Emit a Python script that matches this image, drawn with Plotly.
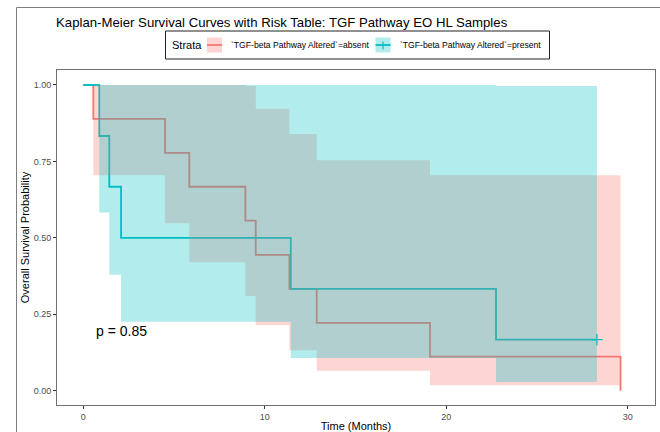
import plotly.graph_objects as go

# ---- data ----
absent_time = [0, 0.55, 4.5, 5.84, 8.93, 9.5, 11.35, 12.86, 19.1, 29.6]
absent_surv = [1.0, 0.889, 0.778, 0.667, 0.556, 0.444, 0.333, 0.222, 0.111, 0.0]
absent_ci_time = [0, 0.55, 4.5, 5.84, 8.93, 9.5, 11.35, 12.86, 19.1, 29.6]
absent_upper = [1.0, 1.0, 1.0, 1.0, 0.997, 0.922, 0.840, 0.754, 0.705, 0.705]
absent_lower = [1.0, 0.705, 0.548, 0.420, 0.310, 0.214, 0.132, 0.065, 0.0175, 0.0175]

present_time = [0, 0.88, 1.43, 2.08, 11.43, 22.74, 28.3]
present_surv = [1.0, 0.833, 0.667, 0.5, 0.333, 0.167, 0.167]
present_ci_time = [0, 0.88, 1.43, 2.08, 11.43, 22.74, 28.3]
present_upper = [1.0, 1.0, 1.0, 1.0, 1.0, 0.997, 0.997]
present_lower = [1.0, 0.583, 0.379, 0.225, 0.107, 0.028, 0.028]

censor_time = [28.3]
censor_surv = [0.167]

strata = ["`TGF-beta Pathway Altered`=absent", "`TGF-beta Pathway Altered`=present"]
colors = ["#F8766D", "#00BFC4"]
fills = ["rgba(248,118,109,0.3)", "rgba(0,191,196,0.3)"]
x_ticks = [0, 10, 20, 30]
y_ticks = [0, 0.25, 0.5, 0.75, 1.0]
p_text = "p = 0.85"
title = "Kaplan-Meier Survival Curves with Risk Table: TGF Pathway EO HL Samples"
legend_title = "Strata"

FONT = "Liberation Sans, Arial, sans-serif"

# plot-area geometry (pixels) used to place layout decorations in paper units
W, H = 660, 432
ML, MR, MT, MB = 57, 5, 70, 27
PW, PH = W - ML - MR, H - MT - MB


def px(xp):
    return (xp - ML) / PW


def py(yp):
    return (H - MB - yp) / PH


fig = go.Figure()
# step lines (drawn first, ribbons over them as in ggplot/survminer)
fig.add_trace(go.Scatter(x=absent_time, y=absent_surv, mode="lines", name=strata[0],
                         line=dict(color=colors[0], width=1.8, shape="hv")))
fig.add_trace(go.Scatter(x=present_time, y=present_surv, mode="lines", name=strata[1],
                         line=dict(color=colors[1], width=1.8, shape="hv")))
# ribbons
for t, lo, up, fc in [(absent_ci_time, absent_lower, absent_upper, fills[0]),
                      (present_ci_time, present_lower, present_upper, fills[1])]:
    fig.add_trace(go.Scatter(x=t, y=lo, mode="lines", line=dict(width=0, shape="hv"),
                             showlegend=False, hoverinfo="skip"))
    fig.add_trace(go.Scatter(x=t, y=up, mode="lines", line=dict(width=0, shape="hv"),
                             fill="tonexty", fillcolor=fc, showlegend=False, hoverinfo="skip"))
# censor marks
fig.add_trace(go.Scatter(x=censor_time, y=censor_surv, mode="markers", showlegend=False,
                         marker=dict(symbol="cross-thin", size=8, line=dict(color=colors[1], width=1.3))))

fig.add_annotation(x=0.6, y=0.195, xref="x", yref="y", text=p_text, showarrow=False,
                   xanchor="left", yanchor="middle", font=dict(size=14, color="black", family=FONT))

# outer frame
fig.add_shape(type="rect", xref="paper", yref="paper", x0=px(16.5), x1=px(700), y0=py(460), y1=py(7.5),
              line=dict(color="#7F7F7F", width=1), fillcolor="rgba(0,0,0,0)", layer="below")

# ---- legend box (ggplot style) ----
fig.add_shape(type="rect", xref="paper", yref="paper", x0=px(165.5), x1=px(549.5), y0=py(59), y1=py(31),
              line=dict(color="#222222", width=1), fillcolor="white")
fig.add_annotation(x=px(170), y=py(45), xref="paper", yref="paper", text=legend_title, showarrow=False,
                   xanchor="left", yanchor="middle", font=dict(size=11, color="black", family=FONT))
key_x = [207, 375.5]
text_x = [229, 397.5]
for i in range(2):
    fig.add_shape(type="rect", xref="paper", yref="paper", x0=px(key_x[i]), x1=px(key_x[i] + 15),
                  y0=py(52.5), y1=py(37.5), line=dict(width=0), fillcolor=fills[i])
    fig.add_shape(type="line", xref="paper", yref="paper", x0=px(key_x[i]), x1=px(key_x[i] + 15),
                  y0=py(45), y1=py(45), line=dict(color=colors[i], width=1.8))
    fig.add_annotation(x=px(text_x[i]), y=py(45), xref="paper", yref="paper", text=strata[i],
                       showarrow=False, xanchor="left", yanchor="middle",
                       font=dict(size=8.6, color="black", family=FONT))
fig.add_shape(type="line", xref="paper", yref="paper", x0=px(key_x[1] + 7.5), x1=px(key_x[1] + 7.5),
              y0=py(49.5), y1=py(41.5), line=dict(color=colors[1], width=1.2))

axis_common = dict(showgrid=False, zeroline=False, showline=True, mirror=True, automargin=False,
                   linecolor="#6E6E6E", linewidth=1, ticks="outside", ticklen=3,
                   tickcolor="#333333", tickfont=dict(size=9, color="#4D4D4D", family=FONT))

fig.update_layout(
    width=W, height=H,
    margin=dict(l=ML, r=MR, t=MT, b=MB, autoexpand=False),
    paper_bgcolor="white", plot_bgcolor="white",
    font=dict(family=FONT, color="black"),
    showlegend=False,
    title=dict(text=title, x=56 / W, xanchor="left", xref="container",
               y=1 - 22 / H, yanchor="middle", pad=dict(l=0, r=0, t=0, b=0),
               font=dict(size=13.2, color="black", family=FONT)),
    xaxis=dict(range=[-1.45, 31.5], tickvals=x_ticks,
               title=dict(text="Time (Months)", font=dict(size=11, family=FONT), standoff=2),
               **axis_common),
    yaxis=dict(range=[-0.047, 1.049], tickvals=y_ticks, tickformat=".2f",
               title=dict(text="Overall Survival Probability", font=dict(size=11, family=FONT), standoff=1),
               **axis_common),
)

fig.write_html("out.html", config={"displayModeBar": False},
               post_script="document.body.style.margin='0';document.body.style.overflow='hidden';")
